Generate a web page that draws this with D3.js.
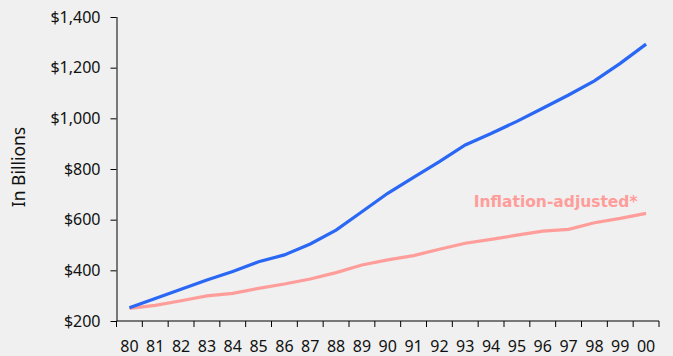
<!DOCTYPE html>
<html>
<head>
<meta charset="utf-8">
<script src="https://cdn.jsdelivr.net/npm/d3@7"></script>
<style>
  body { margin: 0; background: #eff0ef; }
  svg { display: block; }
</style>
</head>
<body>
<script>
// datos
const anios = ["80","81","82","83","84","85","86","87","88","89","90","91","92","93","94","95","96","97","98","99","00"]
const nominal = [252, 289, 325, 362, 395, 434, 461, 504, 559, 631, 704, 767, 829, 895, 940, 988, 1040, 1092, 1148, 1217, 1293]
const ajustado = [250, 262, 280, 299, 309, 329, 346, 366, 391, 421, 441, 458, 483, 507, 522, 539, 555, 562, 588, 605, 625]
const ticksY = [200, 400, 600, 800, 1000, 1200, 1400]

var W = 673, H = 356
var margin = {top: 17, right: 14, bottom: 35, left: 116.5}
var width = W - margin.left - margin.right
var height = H - margin.top - margin.bottom
var fuente = "Noto Sans, sans-serif"

var svg = d3.select("body").append("svg")
    .attr("width", W)
    .attr("height", H)

var g = svg.append("g")
    .attr("transform", "translate(" + margin.left + "," + margin.top + ")")

// EJE X
var x = d3.scaleBand()
    .domain(anios)
    .range([0, width])

var ejeX = g.append("g")
    .attr("transform", "translate(0," + height + ")")
    .call(d3.axisBottom(x).tickSize(0).tickPadding(20))
ejeX.select(".domain").remove()
ejeX.selectAll("text").attr("font-size", 16).attr("fill", "#111").attr("font-family", fuente)

// ticks entre categorias
var bordes = anios.map(d => x(d)).concat([width])
g.append("g").selectAll("line")
    .data(bordes)
    .join("line")
    .attr("x1", d => d).attr("x2", d => d)
    .attr("y1", height).attr("y2", height + 6)
    .attr("stroke", "#000")

g.append("line")
    .attr("x1", 0).attr("x2", width)
    .attr("y1", height).attr("y2", height)
    .attr("stroke", "#000")

// EJE Y
var y = d3.scaleLinear()
    .domain([200, 1400])
    .range([height, 0])

var ejeY = g.append("g")
    .call(d3.axisLeft(y).tickValues(ticksY).tickSize(6).tickPadding(10)
        .tickFormat(d => "$" + d3.format(",")(d)))
ejeY.select(".domain").attr("d", "M0.5," + y(1400) + "V" + height)
ejeY.selectAll("text").attr("font-size", 16).attr("fill", "#111").attr("font-family", fuente)

svg.append("text")
    .attr("transform", "translate(25," + (margin.top + 150) + ") rotate(-90)")
    .attr("text-anchor", "middle")
    .attr("font-size", 17.5)
    .attr("font-family", fuente)
    .attr("fill", "#111")
    .text("In Billions")

// Lineas
var linea = serie => d3.line()
    .x((d, i) => x(anios[i]) + x.bandwidth() / 2)
    .y(d => y(d))(serie)

g.append("path")
    .attr("d", linea(ajustado))
    .attr("fill", "none")
    .attr("stroke", "#ff9d9b")
    .attr("stroke-width", 3.2)

g.append("path")
    .attr("d", linea(nominal))
    .attr("fill", "none")
    .attr("stroke", "#2a67f5")
    .attr("stroke-width", 3.2)

g.append("text")
    .attr("x", x("96") + x.bandwidth())
    .attr("y", y(651))
    .attr("text-anchor", "middle")
    .attr("font-size", 15.5)
    .attr("font-weight", "bold")
    .attr("font-family", "DejaVu Sans, sans-serif")
    .attr("fill", "#ff9d9b")
    .text("Inflation-adjusted*")
</script>
</body>
</html>
